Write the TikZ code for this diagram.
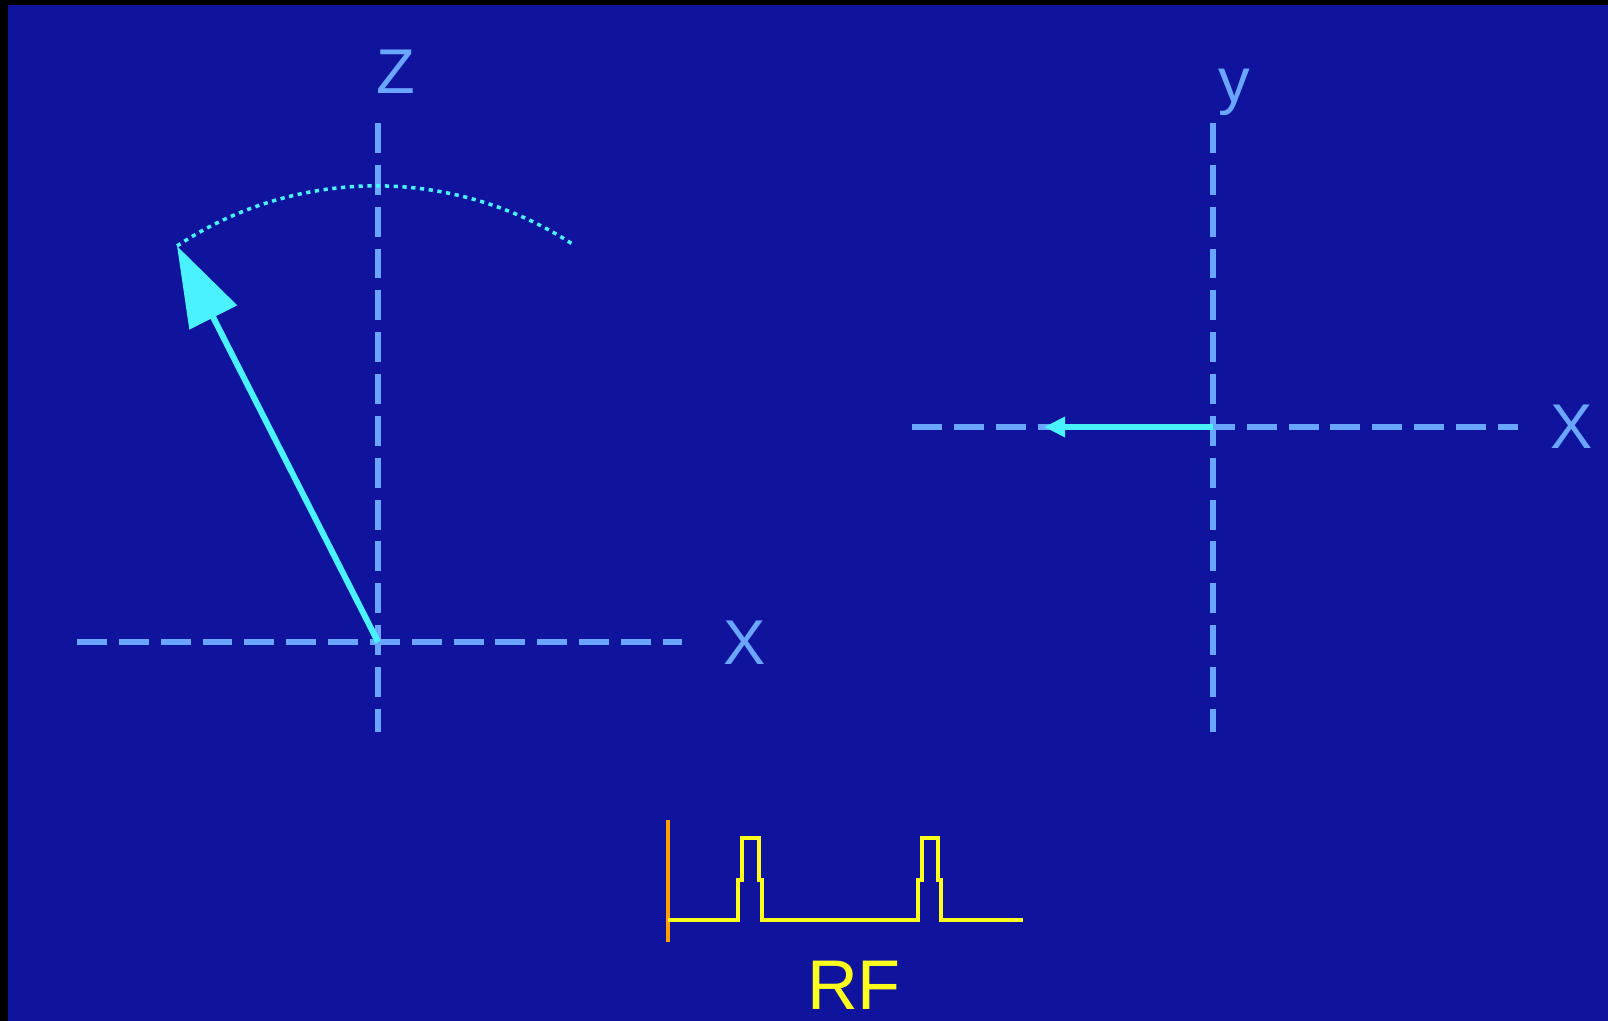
\documentclass[tikz,border=0pt]{standalone}
\usepackage{fontspec}
\setsansfont{Liberation Sans}
\usetikzlibrary{arrows.meta}
\definecolor{screenblue}{HTML}{10149C}
\definecolor{axisblue}{HTML}{6AA6FF}
\definecolor{vectorcyan}{HTML}{4AF2FF}
\definecolor{pulseyellow}{HTML}{FFFF1E}
\definecolor{pulseorange}{HTML}{FFA000}

\begin{document}
\begin{tikzpicture}[x=0.01cm,y=0.01cm,>=Latex,font=\sffamily,
  axis/.style={axisblue,line width=1.7pt,dash pattern=on 8.5pt off 3.4pt},
  axislabel/.style={text=axisblue,inner sep=0pt,font=\sffamily\fontsize{18}{18}\selectfont},
  vector/.style={vectorcyan,line width=1.7pt}]
  \fill[black] (0,0) rectangle (1608,1021);
  \fill[screenblue] (8,0) rectangle (1608,1016);
  % left frame: z and x axes, tipped magnetisation
  \coordinate (O1) at (378,379);
  \coordinate (z1top) at (378,898);
  \coordinate (z1bot) at (378,289);
  \coordinate (x1left) at (77,379);
  \coordinate (x1right) at (682,379);
  \coordinate (M1) at (177,775);
  \draw[axis] (z1top) -- (z1bot);
  \draw[axis] (x1left) -- (x1right);
  \node[axislabel] (zlab) at (396,949) {Z};
  \node[axislabel] (xlab1) at (745,378) {X};
  \draw[vectorcyan,line width=1pt,dash pattern=on 1.2pt off 1.3pt]
    (M1) arc[start angle=123.6,end angle=56.7,radius=360];
  \draw[vector,-{Triangle[length=22.8pt,width=14.8pt]}] (O1) -- (M1);
  % right frame: transverse plane
  \coordinate (O2) at (1213,594);
  \coordinate (y2top) at (1213,898);
  \coordinate (y2bot) at (1213,289);
  \coordinate (x2left) at (912,594);
  \coordinate (x2right) at (1518,594);
  \coordinate (M2) at (1044,594);
  \draw[axis] (y2top) -- (y2bot);
  \draw[axis] (x2left) -- (x2right);
  \node[axislabel] (ylab) at (1234,929) {y};
  \node[axislabel] (xlab2) at (1572,594) {X};
  \draw[vector,-{Triangle[length=6pt,width=5.5pt]}] (O2) -- (M2);
  % RF pulse train
  \coordinate (rf0) at (668,101);
  \coordinate (rf1) at (1023,101);
  \draw[pulseorange,line width=1.2pt] (668,201) -- (668,79);
  \draw[pulseyellow,line width=1.3pt,line join=miter]
    (rf0) -- (738,101) -- (738,141) -- (742,141) -- (742,183) -- (759,183)
    -- (759,141) -- (762,141) -- (762,101) -- (918,101) -- (918,141)
    -- (922,141) -- (922,183) -- (938,183) -- (938,141) -- (941,141)
    -- (941,101) -- (rf1);
  \node[text=pulseyellow,inner sep=0pt,font=\sffamily\fontsize{20}{20}\selectfont]
    (rflab) at (854,36) {RF};
\end{tikzpicture}
\end{document}
